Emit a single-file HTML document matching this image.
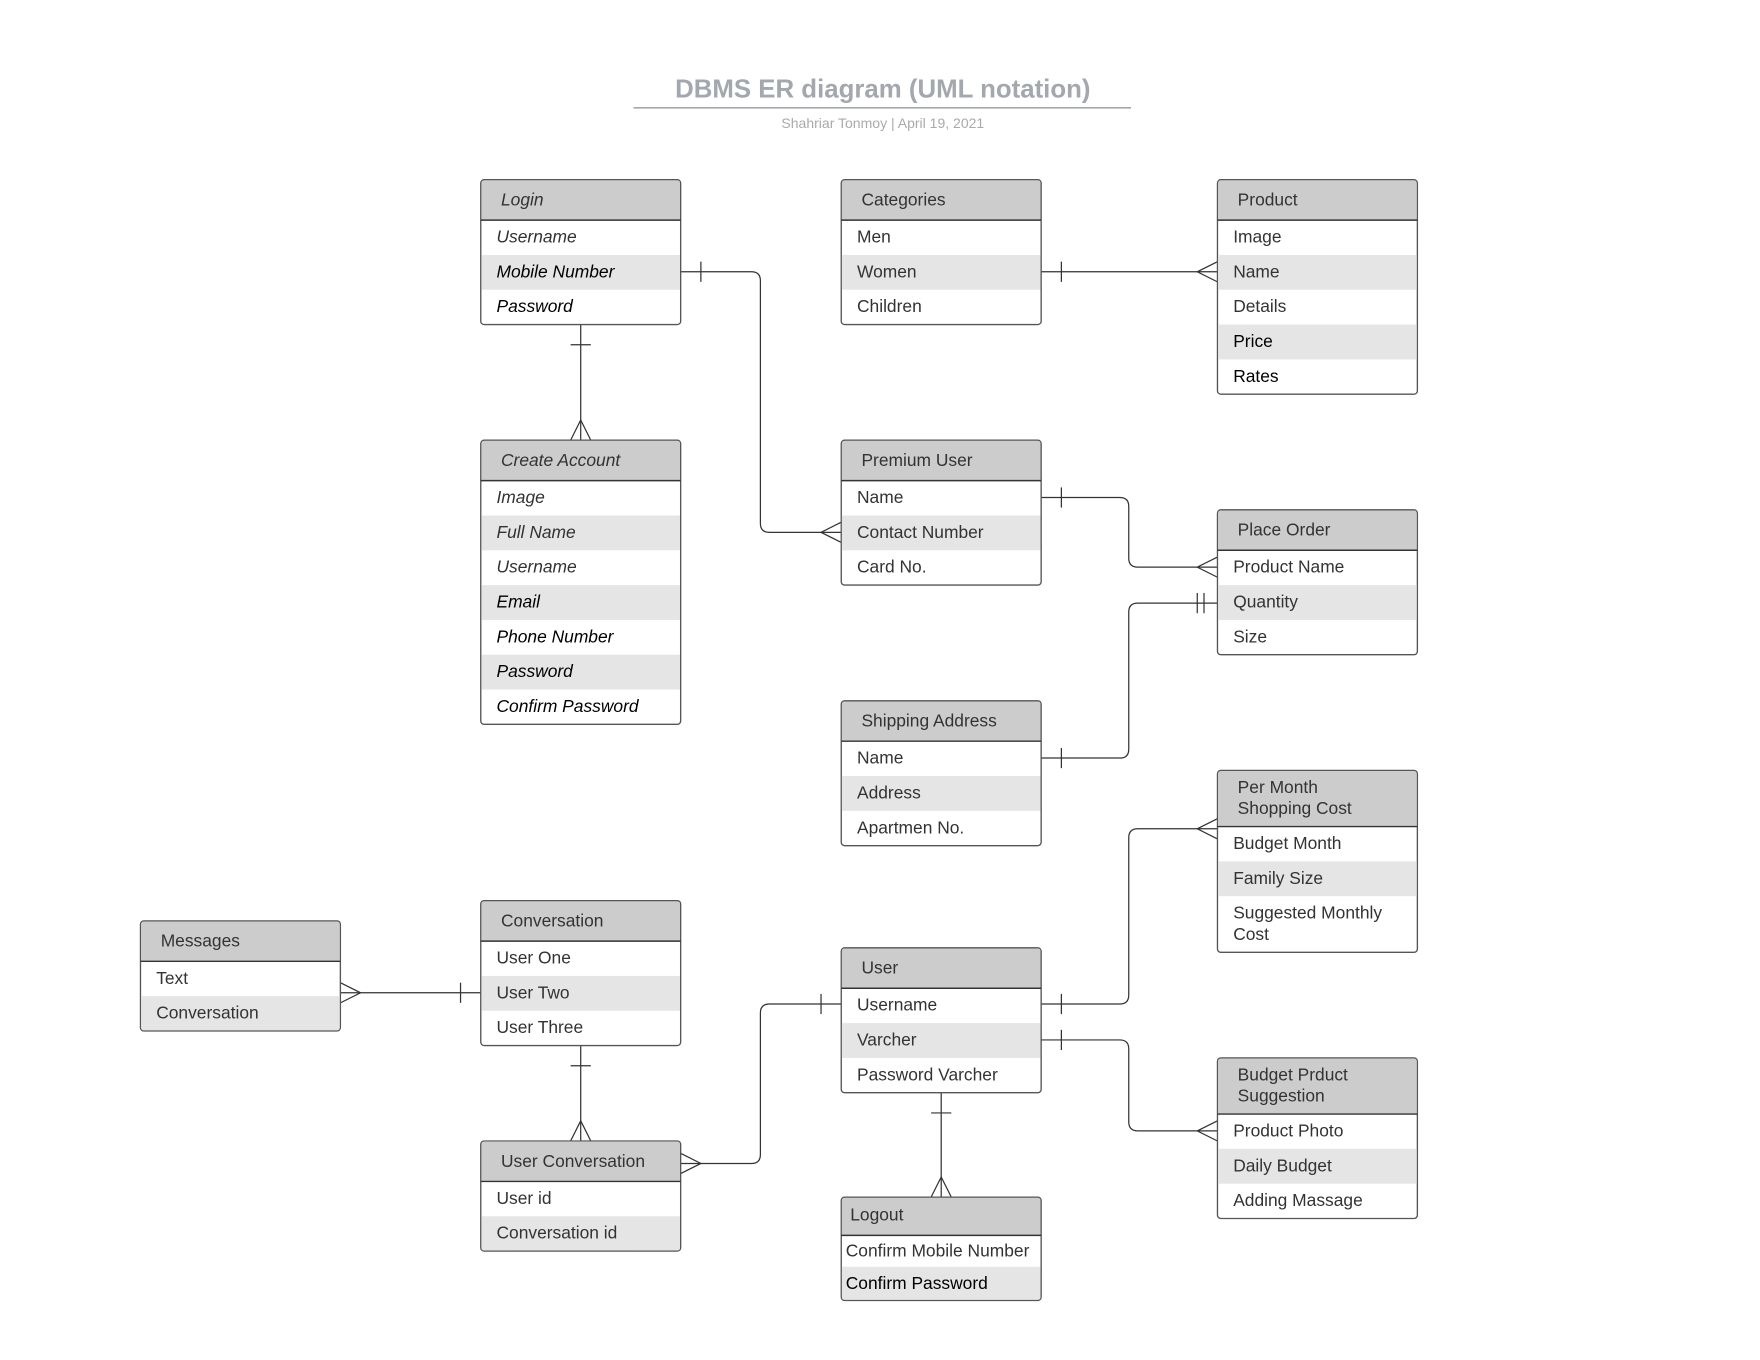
<!DOCTYPE html>
<html><head><meta charset="utf-8"><style>
html,body{margin:0;padding:0;background:#fff;}
svg{display:block;}
text{font-family:"Liberation Sans",sans-serif;font-size:15.5px;fill:#333;}
.i{font-style:italic;}
.k{fill:#000;}
.b{fill:#fff;stroke:#555;stroke-width:1.2;}
.h{fill:#ccc;}
.g{fill:#e5e5e5;}
.l{stroke:#333;stroke-width:1.1;fill:none;}
.hl{stroke:#333;stroke-width:1.3;}
</style></head><body>
<svg width="1760" height="1360" viewBox="0 0 1567 1211" xmlns="http://www.w3.org/2000/svg">
<text x="786" y="87" text-anchor="middle" style="font-size:23px;font-weight:bold;fill:#a3a7ae;">DBMS ER diagram (UML notation)</text>
<line x1="564" y1="96" x2="1007" y2="96" stroke="#a3a7ae" stroke-width="1.5"/>
<text x="786" y="114" text-anchor="middle" style="font-size:12.5px;fill:#aaa;">Shahriar Tonmoy  |  April 19, 2021</text>

<g class="l">
<path d="M606,242 H669 Q677,242 677,250 V466 Q677,474 685,474 H749"/>
<line x1="624" y1="233" x2="624" y2="251"/>
<path d="M749,465 L731,474 L749,483"/>
<line x1="517" y1="289" x2="517" y2="392"/>
<line x1="508" y1="307" x2="526" y2="307"/>
<path d="M508,392 L517,374 L526,392"/>
<line x1="927" y1="242" x2="1084" y2="242"/>
<line x1="945" y1="233" x2="945" y2="251"/>
<path d="M1084,233 L1066,242 L1084,251"/>
<path d="M927,443 H997 Q1005,443 1005,451 V497 Q1005,505 1013,505 H1084"/>
<line x1="945" y1="434" x2="945" y2="452"/>
<path d="M1084,496 L1066,505 L1084,514"/>
<path d="M927,675 H997 Q1005,675 1005,667 V545 Q1005,537 1013,537 H1084"/>
<line x1="945" y1="666" x2="945" y2="684"/>
<line x1="1066" y1="528" x2="1066" y2="546"/>
<line x1="1072" y1="528" x2="1072" y2="546"/>
<path d="M927,894 H997 Q1005,894 1005,886 V746 Q1005,738 1013,738 H1084"/>
<line x1="945" y1="885" x2="945" y2="903"/>
<path d="M1084,729 L1066,738 L1084,747"/>
<path d="M927,926 H997 Q1005,926 1005,934 V999 Q1005,1007 1013,1007 H1084"/>
<line x1="945" y1="917" x2="945" y2="935"/>
<path d="M1084,998 L1066,1007 L1084,1016"/>
<line x1="303" y1="884" x2="428" y2="884"/>
<line x1="410" y1="875" x2="410" y2="893"/>
<path d="M303,875 L321,884 L303,893"/>
<line x1="517" y1="931" x2="517" y2="1016"/>
<line x1="508" y1="949" x2="526" y2="949"/>
<path d="M508,1016 L517,998 L526,1016"/>
<path d="M606,1036 H669 Q677,1036 677,1028 V902 Q677,894 685,894 H749"/>
<line x1="731" y1="885" x2="731" y2="903"/>
<path d="M606,1027 L624,1036 L606,1045"/>
<line x1="838" y1="973" x2="838" y2="1066"/>
<line x1="829" y1="991" x2="847" y2="991"/>
<path d="M829,1066 L838,1048 L847,1066"/>
</g>

<rect class="b" x="428" y="160" width="178" height="129" rx="3"/>
<path class="h" d="M431,160.6 H603 Q605.4,160.6 605.4,163 V196 H428.6 V163 Q428.6,160.6 431,160.6Z"/>
<rect class="g" x="428.6" y="227" width="176.8" height="31"/>
<line class="hl" x1="428" y1="196" x2="606" y2="196"/>
<text class="i" x="446" y="183">Login</text>
<text class="i" x="442" y="216">Username</text>
<text class="i k" x="442" y="247">Mobile Number</text>
<text class="i k" x="442" y="278">Password</text>

<rect class="b" x="749" y="160" width="178" height="129" rx="3"/>
<path class="h" d="M752,160.6 H924 Q926.4,160.6 926.4,163 V196 H749.6 V163 Q749.6,160.6 752,160.6Z"/>
<rect class="g" x="749.6" y="227" width="176.8" height="31"/>
<line class="hl" x1="749" y1="196" x2="927" y2="196"/>
<text x="767" y="183">Categories</text>
<text x="763" y="216">Men</text>
<text x="763" y="247">Women</text>
<text x="763" y="278">Children</text>

<rect class="b" x="1084" y="160" width="178" height="191" rx="3"/>
<path class="h" d="M1087,160.6 H1259 Q1261.4,160.6 1261.4,163 V196 H1084.6 V163 Q1084.6,160.6 1087,160.6Z"/>
<rect class="g" x="1084.6" y="227" width="176.8" height="31"/>
<rect class="g" x="1084.6" y="289" width="176.8" height="31"/>
<line class="hl" x1="1084" y1="196" x2="1262" y2="196"/>
<text x="1102" y="183">Product</text>
<text x="1098" y="216">Image</text>
<text x="1098" y="247">Name</text>
<text x="1098" y="278">Details</text>
<text class="k" x="1098" y="309">Price</text>
<text class="k" x="1098" y="340">Rates</text>

<rect class="b" x="428" y="392" width="178" height="253" rx="3"/>
<path class="h" d="M431,392.6 H603 Q605.4,392.6 605.4,395 V428 H428.6 V395 Q428.6,392.6 431,392.6Z"/>
<rect class="g" x="428.6" y="459" width="176.8" height="31"/>
<rect class="g" x="428.6" y="521" width="176.8" height="31"/>
<rect class="g" x="428.6" y="583" width="176.8" height="31"/>
<line class="hl" x1="428" y1="428" x2="606" y2="428"/>
<text class="i" x="446" y="415">Create Account</text>
<text class="i" x="442" y="448">Image</text>
<text class="i" x="442" y="479">Full Name</text>
<text class="i" x="442" y="510">Username</text>
<text class="i k" x="442" y="541">Email</text>
<text class="i k" x="442" y="572">Phone Number</text>
<text class="i k" x="442" y="603">Password</text>
<text class="i k" x="442" y="634">Confirm Password</text>

<rect class="b" x="749" y="392" width="178" height="129" rx="3"/>
<path class="h" d="M752,392.6 H924 Q926.4,392.6 926.4,395 V428 H749.6 V395 Q749.6,392.6 752,392.6Z"/>
<rect class="g" x="749.6" y="459" width="176.8" height="31"/>
<line class="hl" x1="749" y1="428" x2="927" y2="428"/>
<text x="767" y="415">Premium User</text>
<text x="763" y="448">Name</text>
<text x="763" y="479">Contact Number</text>
<text x="763" y="510">Card No.</text>

<rect class="b" x="1084" y="454" width="178" height="129" rx="3"/>
<path class="h" d="M1087,454.6 H1259 Q1261.4,454.6 1261.4,457 V490 H1084.6 V457 Q1084.6,454.6 1087,454.6Z"/>
<rect class="g" x="1084.6" y="521" width="176.8" height="31"/>
<line class="hl" x1="1084" y1="490" x2="1262" y2="490"/>
<text x="1102" y="477">Place Order</text>
<text x="1098" y="510">Product Name</text>
<text x="1098" y="541">Quantity</text>
<text x="1098" y="572">Size</text>

<rect class="b" x="749" y="624" width="178" height="129" rx="3"/>
<path class="h" d="M752,624.6 H924 Q926.4,624.6 926.4,627 V660 H749.6 V627 Q749.6,624.6 752,624.6Z"/>
<rect class="g" x="749.6" y="691" width="176.8" height="31"/>
<line class="hl" x1="749" y1="660" x2="927" y2="660"/>
<text x="767" y="647">Shipping Address</text>
<text x="763" y="680">Name</text>
<text x="763" y="711">Address</text>
<text x="763" y="742">Apartmen No.</text>

<rect class="b" x="1084" y="686" width="178" height="162" rx="3"/>
<path class="h" d="M1087,686.6 H1259 Q1261.4,686.6 1261.4,689 V736 H1084.6 V689 Q1084.6,686.6 1087,686.6Z"/>
<rect class="g" x="1084.6" y="767" width="176.8" height="31"/>
<line class="hl" x1="1084" y1="736" x2="1262" y2="736"/>
<text x="1102" y="706">Per Month</text>
<text x="1102" y="725">Shopping Cost</text>
<text x="1098" y="756">Budget Month</text>
<text x="1098" y="787">Family Size</text>
<text x="1098" y="818">Suggested Monthly</text>
<text x="1098" y="837">Cost</text>

<rect class="b" x="125" y="820" width="178" height="98" rx="3"/>
<path class="h" d="M128,820.6 H300 Q302.4,820.6 302.4,823 V856 H125.6 V823 Q125.6,820.6 128,820.6Z"/>
<path class="g" d="M125.6,887 H302.4 V915 Q302.4,917.4 300,917.4 H128 Q125.6,917.4 125.6,915Z"/>
<line class="hl" x1="125" y1="856" x2="303" y2="856"/>
<text x="143" y="843">Messages</text>
<text x="139" y="876">Text</text>
<text x="139" y="907">Conversation</text>

<rect class="b" x="428" y="802" width="178" height="129" rx="3"/>
<path class="h" d="M431,802.6 H603 Q605.4,802.6 605.4,805 V838 H428.6 V805 Q428.6,802.6 431,802.6Z"/>
<rect class="g" x="428.6" y="869" width="176.8" height="31"/>
<line class="hl" x1="428" y1="838" x2="606" y2="838"/>
<text x="446" y="825">Conversation</text>
<text x="442" y="858">User One</text>
<text x="442" y="889">User Two</text>
<text x="442" y="920">User Three</text>

<rect class="b" x="749" y="844" width="178" height="129" rx="3"/>
<path class="h" d="M752,844.6 H924 Q926.4,844.6 926.4,847 V880 H749.6 V847 Q749.6,844.6 752,844.6Z"/>
<rect class="g" x="749.6" y="911" width="176.8" height="31"/>
<line class="hl" x1="749" y1="880" x2="927" y2="880"/>
<text x="767" y="867">User</text>
<text x="763" y="900">Username</text>
<text x="763" y="931">Varcher</text>
<text x="763" y="962">Password Varcher</text>

<rect class="b" x="1084" y="942" width="178" height="143" rx="3"/>
<path class="h" d="M1087,942.6 H1259 Q1261.4,942.6 1261.4,945 V992 H1084.6 V945 Q1084.6,942.6 1087,942.6Z"/>
<rect class="g" x="1084.6" y="1023" width="176.8" height="31"/>
<line class="hl" x1="1084" y1="992" x2="1262" y2="992"/>
<text x="1102" y="962">Budget Prduct</text>
<text x="1102" y="981">Suggestion</text>
<text x="1098" y="1012">Product Photo</text>
<text x="1098" y="1043">Daily Budget</text>
<text x="1098" y="1074">Adding Massage</text>

<rect class="b" x="428" y="1016" width="178" height="98" rx="3"/>
<path class="h" d="M431,1016.6 H603 Q605.4,1016.6 605.4,1019 V1052 H428.6 V1019 Q428.6,1016.6 431,1016.6Z"/>
<path class="g" d="M428.6,1083 H605.4 V1111 Q605.4,1113.4 603,1113.4 H431 Q428.6,1113.4 428.6,1111Z"/>
<line class="hl" x1="428" y1="1052" x2="606" y2="1052"/>
<text x="446" y="1039">User Conversation</text>
<text x="442" y="1072">User id</text>
<text x="442" y="1103">Conversation id</text>

<rect class="b" x="749" y="1066" width="178" height="92" rx="3"/>
<path class="h" d="M752,1066.6 H924 Q926.4,1066.6 926.4,1069 V1100 H749.6 V1069 Q749.6,1066.6 752,1066.6Z"/>
<path class="g" d="M749.6,1128 H926.4 V1155 Q926.4,1157.4 924,1157.4 H752 Q749.6,1157.4 749.6,1155Z"/>
<line class="hl" x1="749" y1="1100" x2="927" y2="1100"/>
<text x="757" y="1087">Logout</text>
<text x="753" y="1119">Confirm Mobile Number</text>
<text class="k" x="753" y="1148">Confirm Password</text>
</svg>
</body></html>
